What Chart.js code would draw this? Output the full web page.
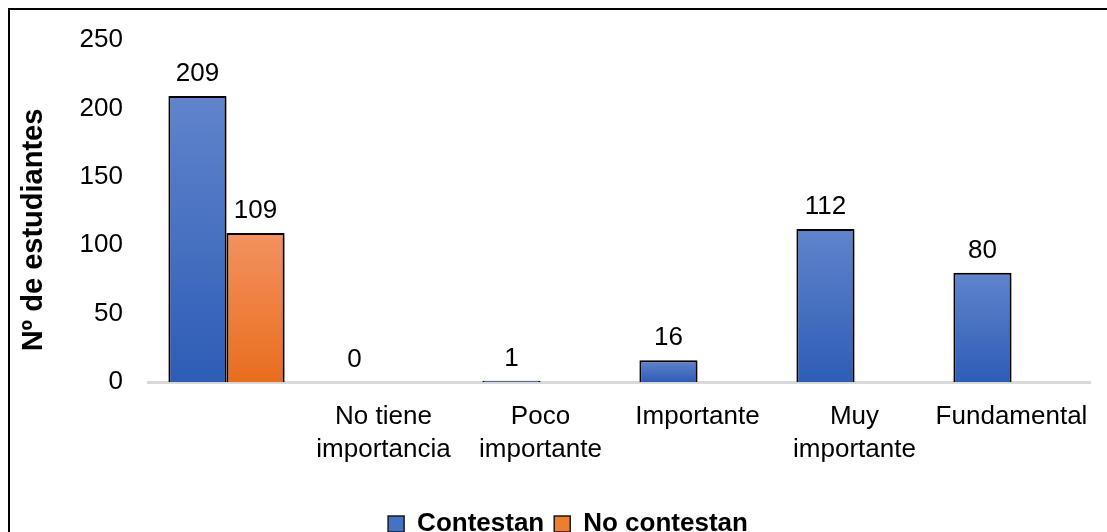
<!DOCTYPE html>
<html>
<head>
<meta charset="utf-8">
<script src="https://cdn.jsdelivr.net/npm/chart.js@4.4.0/dist/chart.umd.min.js"></script>
<style>
  html, body { margin: 0; padding: 0; background: #fff; }
  #wrap { width: 1107px; height: 532px; position: relative; overflow: hidden; }
</style>
</head>
<body>
<div id="wrap"><canvas id="c" width="1107" height="532"></canvas></div>
<script>
const categories = ['', ['No tiene', 'importancia'], ['Poco', 'importante'], 'Importante', ['Muy', 'importante'], 'Fundamental'];
const contestan = [209, 0, 1, 16, 112, 80];
const noContestan = [109, null, null, null, null, null];
const yTicks = [0, 50, 100, 150, 200, 250];
const yTitle = 'Nº de estudiantes';

const FONT = "'Liberation Sans', Arial, sans-serif";

// vertical gradient per bar: lighter at the top, deeper at the base
function barGradient(top, bottom) {
  return (context) => {
    const chart = context.chart;
    const y = chart.scales && chart.scales.y;
    if (!chart.chartArea || !y || context.raw == null) return bottom;
    const yTop = y.getPixelForValue(context.raw);
    const yBase = y.getPixelForValue(0);
    const g = chart.ctx.createLinearGradient(0, yTop, 0, Math.max(yBase, yTop + 1));
    g.addColorStop(0, top);
    g.addColorStop(1, bottom);
    return g;
  };
}

// outer frame of the figure (open to the right and bottom edge)
const framePlugin = {
  id: 'frame',
  afterDraw(chart) {
    const c = chart.ctx;
    c.save();
    c.strokeStyle = '#000';
    c.lineWidth = 2;
    c.strokeRect(9, 9, 1120, 540);
    c.restore();
  }
};

// vertical axis title, set a little below the plot's middle
const axisTitle = {
  id: 'axisTitle',
  afterDraw(chart) {
    const c = chart.ctx;
    c.save();
    c.translate(34, 230);
    c.rotate(-Math.PI / 2);
    c.font = 'bold 29px ' + FONT;
    c.fillStyle = '#000';
    c.textAlign = 'center';
    c.textBaseline = 'middle';
    c.fillText(yTitle, 0, 0);
    c.restore();
  }
};

// legend sits a little right of the canvas centre
const legendShift = {
  id: 'legendShift',
  afterLayout(chart) {
    const lg = chart.legend;
    if (!lg) return;
    lg.left += 23;
    lg.right += 23;
  }
};

// soft shadow under bars
const shadowPlugin = {
  id: 'barShadow',
  beforeDatasetsDraw(chart) {
    const c = chart.ctx;
    c.save();
    c.shadowColor = 'rgba(0,0,0,0.28)';
    c.shadowBlur = 4;
    c.shadowOffsetX = 2;
    c.shadowOffsetY = 2;
  },
  afterDatasetsDraw(chart) {
    chart.ctx.restore();
  }
};

// value labels above bars
const valueLabels = {
  id: 'valueLabels',
  afterDatasetsDraw(chart) {
    const c = chart.ctx;
    c.save();
    c.font = '26px ' + FONT;
    c.fillStyle = '#000';
    c.textAlign = 'center';
    c.textBaseline = 'alphabetic';
    chart.data.datasets.forEach((ds, i) => {
      const meta = chart.getDatasetMeta(i);
      meta.data.forEach((bar, j) => {
        const v = ds.data[j];
        if (v == null) return;
        c.fillText(String(v), bar.x, bar.y - 15);
      });
    });
    c.restore();
  }
};

new Chart(document.getElementById('c'), {
  type: 'bar',
  data: {
    labels: categories,
    datasets: [
      {
        label: 'Contestan',
        data: contestan,
        backgroundColor: barGradient('#6184cc', '#2d5db6'),
        borderColor: '#000',
        borderWidth: 2,
        legendColor: '#4472c4'
      },
      {
        label: 'No contestan',
        data: noContestan,
        backgroundColor: barGradient('#f39160', '#e96e1d'),
        borderColor: '#000',
        borderWidth: 2,
        legendColor: '#ed7d31'
      }
    ]
  },
  plugins: [shadowPlugin, valueLabels, legendShift, axisTitle, framePlugin],
  options: {
    responsive: false,
    animation: false,
    devicePixelRatio: 1,
    layout: { padding: { left: 0, right: 17, top: 40, bottom: -15 } },
    datasets: { bar: { categoryPercentage: 0.74, barPercentage: 1.0 } },
    scales: {
      x: {
        grid: { display: false },
        border: { display: true, color: '#d9d9d9', width: 3 },
        ticks: { color: '#000', font: { family: FONT, size: 26, lineHeight: 1.27 }, maxRotation: 0, autoSkip: false, padding: 10 },
        afterFit(scale) { scale.height = 118.8; }
      },
      y: {
        min: 0, max: 250,
        afterBuildTicks(scale) { scale.ticks = yTicks.map(v => ({ value: v })); },
        grid: { display: false },
        border: { display: false },
        ticks: { color: '#000', font: { family: FONT, size: 26 }, padding: 17 },
        afterFit(scale) { scale.width = 148; }
      }
    },
    plugins: {
      tooltip: { enabled: false },
      legend: {
        position: 'bottom',
        labels: {
          color: '#000',
          font: { family: FONT, size: 26, weight: 'bold' },
          boxWidth: 16,
          boxHeight: 16,
          padding: 10,
          generateLabels(chart) {
            return chart.data.datasets.map((ds, i) => ({
              text: ds.label,
              fillStyle: ds.legendColor,
              strokeStyle: '#1a1a1a',
              lineWidth: 1.5,
              datasetIndex: i,
              hidden: false
            }));
          }
        }
      }
    }
  }
});
</script>
</body>
</html>
